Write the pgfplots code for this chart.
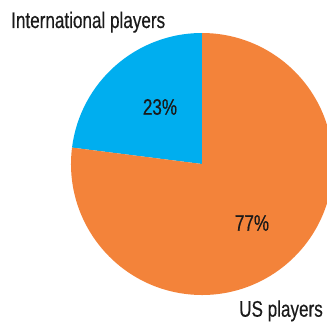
\documentclass[border=0pt]{standalone}
\usepackage{pgfplots}
\pgfplotsset{compat=1.18}
\usepackage{fontspec}
\setmainfont{Liberation Sans}[FakeStretch=0.76, FakeBold=0.4]
\definecolor{intl}{HTML}{00AEEF}
\definecolor{us}{HTML}{F3833A}
\definecolor{txt}{HTML}{1A1A1A}

% shares in percent
\def\intl{23}
\def\us{77}
\pgfmathsetmacro\cut{90+3.6*\intl}

\begin{document}
\begin{tikzpicture}[lbl/.style={font=\fontsize{22.5}{24}\selectfont, text=txt}]
\begin{axis}[
    hide axis,
    x=1pt, y=1pt,
    xmin=0, xmax=327,
    ymin=0, ymax=322,
    scale only axis,
    clip=true,
]
\fill[intl] (axis cs:202,158) -- ++(90:131pt)
    arc[start angle=90, end angle=\cut, radius=131pt] -- cycle;
\fill[us] (axis cs:202,158) -- ++(\cut:131pt)
    arc[start angle=\cut, end angle=450, radius=131pt] -- cycle;
\node[lbl] at (axis cs:160,215) {\intl\%};
\node[lbl] at (axis cs:252,99) {\us\%};
\node[lbl, anchor=base west, inner sep=0pt] at (axis cs:11,294) {International players};
\node[lbl, anchor=base west, inner sep=0pt] at (axis cs:239,5.3) {US players};
\end{axis}
\pgfresetboundingbox
\path[use as bounding box] (current axis.south west) rectangle (current axis.north east);
\end{tikzpicture}
\end{document}
